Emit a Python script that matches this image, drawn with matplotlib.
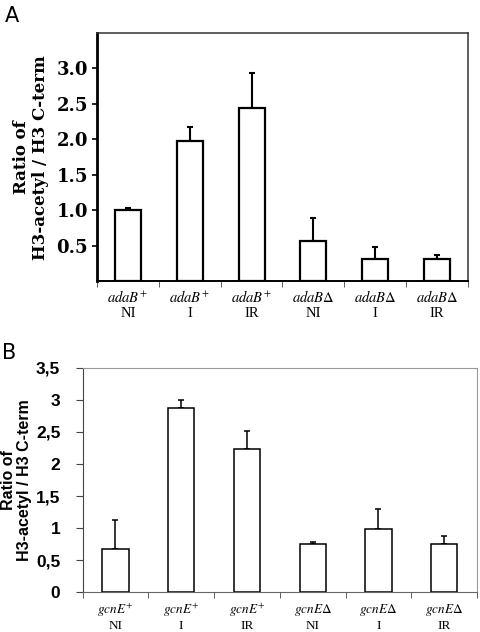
import numpy as np
import matplotlib
matplotlib.use("Agg")
import matplotlib.pyplot as plt

plt.rcParams['mathtext.fontset'] = 'stix'

# panel A data
a_strain = ["$\\mathit{adaB}^{\\!+}$", "$\\mathit{adaB}^{\\!+}$", "$\\mathit{adaB}^{\\!+}$",
            "$\\mathit{adaB}\\Delta$", "$\\mathit{adaB}\\Delta$", "$\\mathit{adaB}\\Delta$"]
a_cond = ["NI", "I", "IR", "NI", "I", "IR"]
a_vals = [1.00, 1.98, 2.45, 0.57, 0.31, 0.31]
a_err = [0.03, 0.20, 0.49, 0.32, 0.17, 0.07]

# panel B data
b_strain = ["$\\mathit{gcnE}^{\\!+}$", "$\\mathit{gcnE}^{\\!+}$", "$\\mathit{gcnE}^{\\!+}$",
            "$\\mathit{gcnE}\\Delta$", "$\\mathit{gcnE}\\Delta$", "$\\mathit{gcnE}\\Delta$"]
b_cond = ["NI", "I", "IR", "NI", "I", "IR"]
b_vals = [0.67, 2.87, 2.23, 0.75, 0.99, 0.75]
b_err = [0.46, 0.12, 0.28, 0.04, 0.31, 0.12]

fig = plt.figure(figsize=(4.8, 6.32), dpi=100)


def draw(ax, vals, err, strains, conds, width, edge_lw, err_lw, y1, y2, fs):
    x = np.arange(len(vals))
    ax.bar(x, vals, width=width, color="white", edgecolor="black", linewidth=edge_lw, zorder=2)
    ax.errorbar(x, vals, yerr=[np.zeros(len(err)), err], fmt="none", ecolor="black",
                elinewidth=err_lw, capsize=2.5, capthick=err_lw, zorder=1)
    ax.set_xlim(-0.5, len(vals) - 0.5)
    ax.set_ylim(0, 3.5)
    ax.set_xticks([])
    ax.set_xticks(np.arange(len(vals) + 1) - 0.5, minor=True)
    ax.tick_params(axis="x", which="minor", length=4, direction="out", color="#444444")
    tr = ax.get_xaxis_transform()
    for i in range(len(vals)):
        ax.text(x[i], y1, strains[i], transform=tr, ha="center", va="center",
                fontfamily="Liberation Serif", fontsize=fs)
        ax.text(x[i], y2, conds[i], transform=tr, ha="center", va="center",
                fontfamily="Liberation Serif", fontsize=fs)


# ---- A ----
axA = fig.add_axes([0.202, 0.5546, 0.773, 0.3932])
draw(axA, a_vals, a_err, a_strain, a_cond, 0.42, 1.6, 1.5, -0.062, -0.127, 10.5)
axA.set_yticks([0.5, 1.0, 1.5, 2.0, 2.5, 3.0])
axA.set_yticklabels(["%.1f" % v for v in [0.5, 1.0, 1.5, 2.0, 2.5, 3.0]],
                    fontfamily="DejaVu Serif", fontweight="bold", fontsize=13)
axA.tick_params(axis="y", length=3.5, width=1.2, direction="out", pad=3)
axA.spines["left"].set_linewidth(2.0)
axA.spines["bottom"].set_linewidth(1.4)
for s in ["top", "right"]:
    axA.spines[s].set_linewidth(1.1)
    axA.spines[s].set_color("#333333")
axA.set_ylabel("Ratio of\nH3-acetyl / H3 C-term", fontfamily="DejaVu Serif",
               fontweight="bold", fontsize=12, linespacing=1.2, labelpad=5)
fig.text(0.01, 0.965, "A", fontsize=15, fontfamily="DejaVu Sans")

# ---- B ----
axB = fig.add_axes([0.172, 0.0628, 0.822, 0.3554])
draw(axB, b_vals, b_err, b_strain, b_cond, 0.40, 1.1, 1.1, -0.080, -0.148, 9.5)
yt = [0, 0.5, 1, 1.5, 2, 2.5, 3, 3.5]
axB.set_yticks(yt)
axB.set_yticklabels([("%g" % v).replace(".", ",") for v in yt],
                    fontfamily="Liberation Sans", fontweight="bold", fontsize=12.5)
axB.tick_params(axis="y", length=5, direction="out", pad=11, color="#444444")
for s in ["top", "right"]:
    axB.spines[s].set_linewidth(0.8)
    axB.spines[s].set_color("#999999")
axB.spines["left"].set_color("#444444")
axB.spines["bottom"].set_color("#666666")
axB.set_ylabel("Ratio of\nH3-acetyl / H3 C-term", fontfamily="Liberation Sans",
               fontweight="bold", fontsize=11.5, linespacing=1.1, labelpad=3)
fig.text(0.005, 0.432, "B", fontsize=15, fontfamily="DejaVu Sans")

fig.savefig("out.png", dpi=100)
